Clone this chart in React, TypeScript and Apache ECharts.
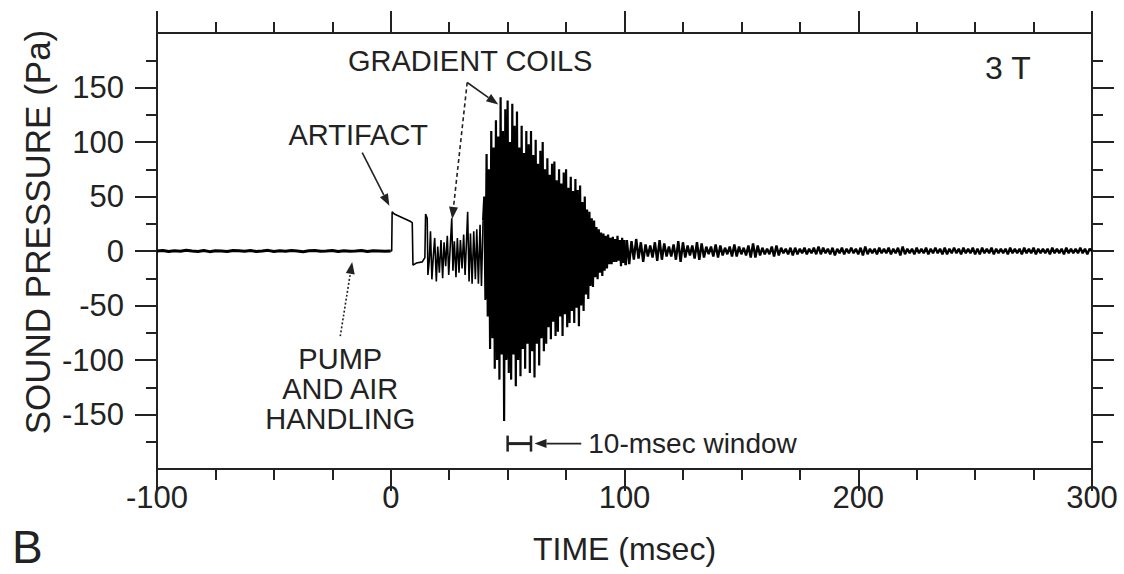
import React, { useEffect, useRef } from "react";
import * as echarts from "echarts";

// ---- axis definitions ----
const xMin = -100;
const xMax = 300;
const xStep = 100;
const yMin = -200;
const yMax = 200;
const yStep = 50;
const yTickValues = [-150, -100, -50, 0, 50, 100, 150];

// ---- waveform (time in msec, pressure in Pa) ----
// quiet baseline before the sequence (pump and air handling), sampled every 2.5 ms
const quietStart = -100;
const quietStep = 2.5;
const quietValues = [
  0, 0.5, -0.5, 0.3, -0.3, 0.6, 0, -0.5, 0.5, -0.6, 0.3, 0, -0.5, 0.5, 0.3, -0.3, 0.5, -0.5, 0, 0.6,
  -0.5, 0.3, -0.3, 0.5, 0, -0.6, 0.3, 0.5, -0.3, 0, 0.5, -0.5, 0.3, -0.3, 0, 0.5, -0.5, 0.3, 0, -0.3, 0,
];

// artifact step and onset of gradient activity
const onsetTimes = [
  0.4, 0.6, 1.5, 8.5, 9.2, 9.5, 11, 13.5, 14.6, 14.9, 15.6, 15.9, 16.5, 17, 17.6, 18.2, 18.8,
  19.5, 20.1, 20.8, 21.5, 22.2, 22.8, 23.5, 24.2, 24.8, 25.5, 26.1, 26.6, 27.2, 27.9, 28.5,
  29.2, 29.8, 30.5, 31.2, 31.8, 32.5, 32.9, 33.5, 34.1, 34.8, 35.5, 36.2, 36.8, 37.5, 38.2,
  38.8, 39.5,
];
const onsetValues = [
  0, 36, 34, 27, 26, -13, -11, -10, -6, 34, 30, -22, -8, 18, -26, -5, 12, -28, 4, -20, 10,
  -25, 8, -14, 14, -22, 6, 30, -18, 9, -24, 12, -20, 10, -16, 15, -22, 14, 36, -28, 16, -30,
  18, -26, 20, -30, 24, -32, 28,
];

// gradient-coil burst, sampled every 0.5 ms from 40 ms
const burstStart = 40;
const burstStep = 0.5;
const burstValues = [
  50, -45, 89, -60, 75, -90, 110, -80, 95, -108, 120, -100, 105, -118, 141, -95, 110, -156,
  130, -100, 138, -112, 100, -118, 135, -95, 115, -124, 128, -100, 95, -115, 115, -90, 90,
  -108, 110, -85, 98, -112, 110, -92, 88, -116, 102, -85, 80, -105, 92, -80, 100, -92, 75,
  -85, 85, -70, 70, -81, 80, -65, 82, -78, 65, -74, 75, -60, 62, -78, 72, -58, 75, -70, 58,
  -66, 68, -55, 55, -66, 66, -52, 56, -69, 60, -50, 45, -55, 50, -40, 38, -44, 36, -32, 30,
  -33, 28, -24, 22, -26, 20, -20, 17, -23, 16, -18, 14, -16, 15, -12, 12, -12, 13, -10, 11,
  -10, 14, -9, 10, -14, 12, -11, 10, -13,
];

// decaying tail, sampled every 1 ms from 101 ms
const tailStart = 101;
const tailStep = 1;
const tailValues = [
  10, -12, 9, -8, 11, -7, 8, -10, 6, -5,
  5, -6, 8, -9, 10, -8, 7, -5, 4, -5,
  6, -8, 9, -10, 8, -6, 5, -4, 5, -7,
  8, -8, 7, -6, 4, -3, 4, -5, 6, -6,
  5, -4, 3, -3, 4, -5, 6, -5, 4, -3,
  3, -4, 5, -6, 7, -6, 5, -4, 3, -3,
  2, -3, 4, -5, 5, -4, 3, -2, 2, -3,
  3, -4, 3, -3, 2, -2, 3, -3, 2, -2,
  3, -3, 4, -3, 3, -2, 2, -3, 3, -4,
  2, -2, 3, -3, 2, -2, 3, -2, 2, -3,
  3, -4, 4, -3, 2, -2, 2, -3, 3, -2,
  2, -2, 3, -3, 2, -2, 3, -4, 4, -3,
  2, -2, 2, -3, 3, -2, 2, -2, 3, -3,
  2, -2, 3, -2, 2, -3, 3, -3, 2, -2,
  3, -2, 2, -3, 3, -2, 2, -2, 3, -3,
  2, -3, 3, -2, 2, -2, 3, -3, 2, -2,
  2, -2, 2, -3, 3, -2, 2, -2, 2, -3,
  3, -2, 2, -2, 3, -3, 2, -2, 2, -2,
  2, -3, 3, -2, 2, -2, 2, -3, 3, -2,
  2, -2, 2, -2, 3, -2, 2, -3, 2, 0,
];

// 10-msec analysis window (ms)
const windowStartMs = 50;
const windowEndMs = 60;

function sampled(start: number, step: number, values: number[]): number[][] {
  return values.map((v, i) => [start + i * step, v]);
}

export default function App() {
  const ref = useRef<HTMLDivElement>(null);

  useEffect(() => {
    document.body.style.margin = "0";
    const chart = echarts.init(ref.current!, null, { renderer: "svg" });
    const FONT = '"Liberation Sans", Arial, Helvetica, sans-serif';
    const ink = "#222";
    const axisLine = { show: true, onZero: false, lineStyle: { color: ink, width: 2 } };
    const tickStyle = { color: ink, width: 2 };

    const quietData = sampled(quietStart, quietStep, quietValues);
    const onsetData = onsetTimes.map((t, i) => [t, onsetValues[i]]);
    const burstData = sampled(burstStart, burstStep, burstValues);
    const tailData = sampled(tailStart, tailStep, tailValues);
    // join the segments
    onsetData.unshift(quietData[quietData.length - 1]);
    burstData.unshift(onsetData[onsetData.length - 1]);
    tailData.unshift(burstData[burstData.length - 1]);

    const xCommon = {
      type: "value",
      min: xMin,
      max: xMax,
      interval: xStep,
      axisLine,
      axisTick: { show: true, length: 22, lineStyle: tickStyle },
      minorTick: { show: true, splitNumber: 4, length: 11, lineStyle: tickStyle },
      splitLine: { show: false },
      minorSplitLine: { show: false },
    };
    const yCommon = {
      type: "value",
      min: yMin,
      max: yMax,
      interval: yStep,
      axisLine,
      axisTick: { show: true, length: 22, customValues: yTickValues, lineStyle: tickStyle },
      minorTick: { show: true, splitNumber: 2, length: 11, lineStyle: tickStyle },
      splitLine: { show: false },
      minorSplitLine: { show: false },
    };

    const lineSeries = (data: number[][], width: number) => ({
      type: "line",
      xAxisIndex: 0,
      yAxisIndex: 0,
      data,
      symbol: "none",
      silent: true,
      lineStyle: { color: "#000", width },
    });

    chart.setOption({
      animation: false,
      backgroundColor: "#fff",
      grid: { left: 157, right: 32, top: 33, bottom: 105, containLabel: false },
      xAxis: [
        {
          ...xCommon,
          position: "bottom",
          axisLabel: { fontSize: 31, fontFamily: FONT, color: ink, margin: 13 },
          name: "TIME (msec)",
          nameLocation: "middle",
          nameGap: 64,
          nameTextStyle: { fontSize: 32, fontFamily: FONT, color: ink },
        },
        { ...xCommon, position: "top", axisLabel: { show: false } },
      ],
      yAxis: [
        {
          ...yCommon,
          position: "left",
          axisLabel: {
            customValues: yTickValues,
            fontSize: 31,
            fontFamily: FONT,
            color: ink,
            margin: 33,
          },
        },
        { ...yCommon, position: "right", axisLabel: { show: false } },
      ],
      series: [
        lineSeries(quietData, 3),
        lineSeries(onsetData, 1.6),
        lineSeries(burstData, 2.2),
        lineSeries(tailData, 2.4),
      ],
    });

    const px = (t: number, v: number): number[] =>
      chart.convertToPixel({ xAxisIndex: 0, yAxisIndex: 0 }, [t, v]) as number[];

    const textEl = (
      text: string,
      p: number[],
      fontSize: number,
      align: string = "center",
      extra: any = {}
    ) => ({
      type: "text",
      x: p[0],
      y: p[1],
      silent: true,
      style: {
        text,
        fontSize,
        fontFamily: FONT,
        fill: ink,
        align,
        verticalAlign: "middle",
        ...extra,
      },
    });

    const arrow = (from: number[], to: number[], dash: number[] | null) => {
      const dx = to[0] - from[0];
      const dy = to[1] - from[1];
      const len = Math.sqrt(dx * dx + dy * dy) || 1;
      const ux = dx / len;
      const uy = dy / len;
      const headLen = 12;
      const headW = 4.5;
      const bx = to[0] - ux * headLen;
      const by = to[1] - uy * headLen;
      return [
        {
          type: "line",
          silent: true,
          shape: { x1: from[0], y1: from[1], x2: bx, y2: by },
          style: { stroke: ink, lineWidth: 1.6, lineDash: dash || undefined },
        },
        {
          type: "polygon",
          silent: true,
          shape: {
            points: [
              [to[0], to[1]],
              [bx - uy * headW, by + ux * headW],
              [bx + uy * headW, by - ux * headW],
            ],
          },
          style: { fill: ink },
        },
      ];
    };

    const apex = px(32.7, 154.6);
    const winL = px(windowStartMs, -176.7);
    const winR = px(windowEndMs, -176.7);

    const graphic: any[] = [
      textEl("3 T", px(264, 167.5), 32),
      textEl("GRADIENT COILS", px(34, 174), 29),
      textEl("ARTIFACT", px(-13.9, 106.7), 29),
      textEl("PUMP\nAND AIR\nHANDLING", px(-21.6, -127), 29, "center", { lineHeight: 30 }),
      textEl("10-msec window", px(84.5, -176.7), 28, "left"),
      ...arrow(px(-12.2, 90.2), px(-0.6, 41.4), null),
      ...arrow(apex, px(46, 134.3), null),
      ...arrow(apex, px(26.3, 29.4), [4, 3]),
      ...arrow(px(-21.6, -78.2), px(-16.5, -10), [2, 2]),
      ...arrow(px(81.5, -176.7), px(61.5, -176.7), null),
      {
        type: "line",
        silent: true,
        shape: { x1: winL[0], y1: winL[1], x2: winR[0], y2: winR[1] },
        style: { stroke: ink, lineWidth: 3 },
      },
      {
        type: "line",
        silent: true,
        shape: { x1: winL[0], y1: winL[1] - 8, x2: winL[0], y2: winL[1] + 8 },
        style: { stroke: ink, lineWidth: 2.5 },
      },
      {
        type: "line",
        silent: true,
        shape: { x1: winR[0], y1: winR[1] - 8, x2: winR[0], y2: winR[1] + 8 },
        style: { stroke: ink, lineWidth: 2.5 },
      },
      {
        type: "text",
        x: 37,
        y: 232,
        rotation: Math.PI / 2,
        silent: true,
        style: {
          text: "SOUND PRESSURE (Pa)",
          fontSize: 35,
          fontFamily: FONT,
          fill: ink,
          align: "center",
          verticalAlign: "middle",
        },
      },
      {
        type: "text",
        x: 12,
        y: 547,
        silent: true,
        style: {
          text: "B",
          fontSize: 46,
          fontFamily: FONT,
          fill: ink,
          align: "left",
          verticalAlign: "middle",
        },
      },
    ];

    chart.setOption({ graphic });

    return () => {
      chart.dispose();
    };
  }, []);

  return (
    <div
      ref={ref}
      style={{ position: "absolute", left: 0, top: 0, width: 1124, height: 574 }}
    />
  );
}
